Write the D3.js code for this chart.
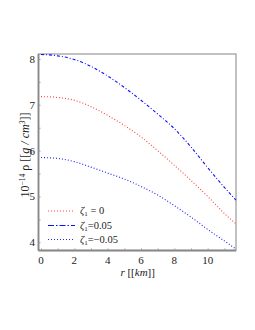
<!DOCTYPE html>
<html>
<head>
<meta charset="utf-8">
<script src="https://cdn.jsdelivr.net/npm/d3@7"></script>
<style>
  body { margin: 0; background: #fff; }
</style>
</head>
<body>
<svg id="chart" width="255" height="330" font-family="'Liberation Serif', 'DejaVu Serif', serif"></svg>
<script>
// radius in km
var radius = [0, 1, 2, 3, 4, 5, 6, 7, 8, 9, 10, 11, 11.7];
// 10^-14 rho for each zeta_1
var rhoZero = [7.18, 7.16, 7.10, 6.96, 6.77, 6.55, 6.30, 6.00, 5.68, 5.35, 5.00, 4.63, 4.40];
var rhoPlus = [8.10, 8.07, 7.99, 7.84, 7.63, 7.38, 7.10, 6.80, 6.48, 6.08, 5.63, 5.20, 4.92];
var rhoMinus = [5.85, 5.83, 5.76, 5.64, 5.51, 5.38, 5.22, 5.03, 4.80, 4.55, 4.28, 4.03, 3.85];
var seriesLabels = [" = 0", "=0.05", "=\u22120.05"];
var xTicks = [0, 2, 4, 6, 8, 10];
var yTicks = [4, 5, 6, 7, 8];

var svg = d3.select("#chart");
var plotL = 38.5, plotR = 236, plotT = 54, plotB = 250.5;

//	scales
var x = d3.scaleLinear().domain([-0.15, 11.7]).range([plotL, plotR]);
var y = d3.scaleLinear().domain([3.82, 8.11]).range([plotB, plotT]);

// frame
svg.append("rect")
    .attr("x", plotL).attr("y", plotT)
    .attr("width", plotR - plotL).attr("height", plotB - plotT)
    .attr("fill", "none").attr("stroke", "#999").attr("stroke-width", 1.2);
svg.append("line").attr("x1", plotL).attr("x2", plotL).attr("y1", plotT).attr("y2", plotB)
    .attr("stroke", "#888").attr("stroke-width", 1.8);
svg.append("line").attr("x1", plotL).attr("x2", plotR).attr("y1", plotB).attr("y2", plotB)
    .attr("stroke", "#888").attr("stroke-width", 1.8);

//	minor + major ticks, pointing inward
var xAxis = d3.axisTop(x).tickValues(d3.range(0, 12, 1)).tickSize(2).tickFormat("");
var gx = svg.append("g").attr("transform", "translate(0," + plotB + ")").call(xAxis);
gx.select(".domain").remove();
gx.selectAll("line").attr("stroke", "#999");

var yAxis = d3.axisRight(y).tickValues(d3.range(4, 8.01, 0.5)).tickSize(2).tickFormat("");
var gy = svg.append("g").attr("transform", "translate(" + plotL + ",0)").call(yAxis);
gy.select(".domain").remove();
gy.selectAll("line").attr("stroke", "#999");

// tick labels
svg.append("g").selectAll("text").data(xTicks).enter().append("text")
    .attr("x", function (d) { return x(d); })
    .attr("y", 264)
    .attr("text-anchor", "middle")
    .attr("font-size", 11)
    .attr("fill", "#222")
    .text(function (d) { return d; });
svg.append("g").selectAll("text").data(yTicks).enter().append("text")
    .attr("x", 35)
    .attr("y", function (d) { return y(d) + 4; })
    .attr("text-anchor", "end")
    .attr("font-size", 11)
    .attr("fill", "#222")
    .text(function (d) { return d; });

// axis titles
var xt = svg.append("text").attr("x", x(5.8)).attr("y", 276)
    .attr("text-anchor", "middle").attr("font-size", 11).attr("fill", "#222");
xt.append("tspan").attr("font-style", "italic").text("r");
xt.append("tspan").text(" [[");
xt.append("tspan").attr("font-style", "italic").text("km");
xt.append("tspan").text("]]");

var yt = svg.append("text")
    .attr("transform", "translate(29," + 155 + ") rotate(-90)")
    .attr("text-anchor", "middle").attr("font-size", 12).attr("fill", "#222");
yt.append("tspan").text("10");
yt.append("tspan").attr("font-size", 7.5).attr("dy", -4.5).text("\u221214");
yt.append("tspan").attr("dy", 4.5).text(" \u03c1 [[");
yt.append("tspan").attr("font-style", "italic").text("g / cm");
yt.append("tspan").attr("font-size", 7.5).attr("dy", -4.5).attr("font-style", "italic").text("3");
yt.append("tspan").attr("dy", 4.5).text("]]");

//	curves
var series = [
    { values: rhoZero, color: "#ff4040", dash: "1,2", width: 1.1 },
    { values: rhoPlus, color: "#1010ff", dash: "3,2,1,2", width: 1.1 },
    { values: rhoMinus, color: "#2020ff", dash: "1,2", width: 1.1 }
];
var line = d3.line()
    .x(function (d) { return x(d[0]); })
    .y(function (d) { return y(d[1]); })
    .curve(d3.curveMonotoneX);

svg.append("g").selectAll("path").data(series).enter().append("path")
    .attr("d", function (s) { return line(radius.map(function (r, i) { return [r, s.values[i]]; })); })
    .attr("fill", "none")
    .attr("stroke", function (s) { return s.color; })
    .attr("stroke-width", function (s) { return s.width; })
    .attr("stroke-dasharray", function (s) { return s.dash; });

//	legend
var legendY = [211, 225.5, 239.5];
var lg = svg.append("g").selectAll("g").data(series).enter().append("g")
    .attr("transform", function (d, i) { return "translate(0," + legendY[i] + ")"; });
lg.append("line")
    .attr("x1", 48).attr("x2", 75).attr("y1", 0).attr("y2", 0)
    .attr("stroke", function (s) { return s.color; })
    .attr("stroke-width", function (s) { return s.width; })
    .attr("stroke-dasharray", function (s, i) { return i === 1 ? "6,2,1.5,2" : s.dash; });
var lt = lg.append("text").attr("x", 80).attr("y", 3).attr("font-size", 10.5).attr("fill", "#222");
lt.append("tspan").attr("font-style", "italic").text("\u03b6");
lt.append("tspan").attr("font-size", 7).attr("dy", 2).text("1");
lt.append("tspan").attr("dy", -2).text(function (d, i) { return seriesLabels[i]; });
</script>
</body>
</html>
